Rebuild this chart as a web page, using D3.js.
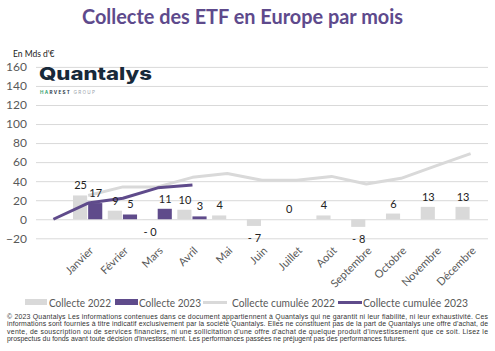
<!DOCTYPE html>
<html>
<head>
<meta charset="utf-8">
<script src="https://cdn.jsdelivr.net/npm/d3@7"></script>
<style>
  body { margin: 0; background: #fff; }
  svg { display: block; font-family: Lato, "Open Sans", sans-serif; }
</style>
</head>
<body>
<svg id="chart"></svg>
<script>
// chart data
const months = ["Janvier", "Février", "Mars", "Avril", "Mai", "Juin", "Juillet", "Août", "Septembre", "Octobre", "Novembre", "Décembre"];
const collecte2022 = [25, 9, -0.3, 10, 4, -7, 0, 4, -8, 6, 13, 13];
const collecte2023 = [17, 5, 11, 3];
const cumul2022 = [25, 34, 34, 44, 48, 41, 41, 45, 37, 43, 56, 69];
const cumul2023 = [0, 17, 22, 33, 36];
const yTicks = [-20, 0, 20, 40, 60, 80, 100, 120, 140, 160];
const footer = [
  "© 2023 Quantalys Les informations contenues dans ce document appartiennent à Quantalys qui ne garantit ni leur fiabilité, ni leur exhaustivité. Ces",
  "informations sont fournies à titre indicatif exclusivement par la société Quantalys. Elles ne constituent pas de la part de Quantalys une offre d'achat, de",
  "vente, de souscription ou de services financiers, ni une sollicitation d'une offre d'achat de quelque produit d'investissement que ce soit. Lisez le",
  "prospectus du fonds avant toute décision d'investissement. Les performances passées ne préjugent pas des performances futures."
];

const W = 495, H = 351;
const gray = "#d9d9d9", purple = "#5f4b8b", txt = "#595959";
const plotL = 36, plotR = 488, plotT = 66.9, plotB = 238.3;

const svg = d3.select("#chart").attr("width", W).attr("height", H);

// title
svg.append("text")
  .attr("x", 82).attr("y", 23.5)
  .attr("textLength", 321).attr("lengthAdjust", "spacingAndGlyphs")
  .style("font-size", "20px").style("font-weight", 700)
  .attr("fill", "#5e4a8c")
  .text("Collecte des ETF en Europe par mois");

svg.append("text")
  .attr("x", 13).attr("y", 57)
  .style("font-size", "8.5px").attr("fill", "#222")
  .text("En Mds d'€");

// scales
const cats = [""].concat(months);
const x = d3.scaleBand().domain(cats).range([plotL, plotR])
  .paddingInner(0.13).paddingOuter(0.065);
const xs = d3.scaleBand().domain(["2022", "2023"]).range([0, x.bandwidth()]);
const y = d3.scaleLinear().domain([-20, 160]).range([plotB, plotT]);
const cx = c => x(c) + x.bandwidth() / 2;

// grid + y axis
const yAxis = d3.axisLeft(y).tickValues(yTicks).tickSize(-(plotR - plotL)).tickPadding(9);
const ga = svg.append("g").attr("transform", `translate(${plotL},0)`).call(yAxis);
ga.select(".domain").remove();
ga.selectAll(".tick line").attr("stroke", gray).attr("stroke-width", 1);
ga.selectAll(".tick text").attr("fill", txt).style("font-size", "12px")
  .style("font-family", "Lato, sans-serif");

// x labels
const xAxis = d3.axisBottom(x).tickValues(months).tickSize(0);
const gx = svg.append("g").attr("transform", `translate(0,${plotB})`).call(xAxis);
gx.select(".domain").remove();
gx.selectAll(".tick text")
  .attr("fill", txt).style("font-size", "11px").style("font-family", "Lato, sans-serif")
  .attr("text-anchor", "end").attr("dy", 0).attr("y", 0)
  .attr("transform", "translate(6,13) rotate(-45)");

// logo
const logo = svg.append("g");
logo.append("text").attr("x", 39).attr("y", 80)
  .attr("textLength", 113).attr("lengthAdjust", "spacingAndGlyphs")
  .style("font-family", "Inter, sans-serif").style("font-size", "17.5px").style("font-weight", 800)
  .attr("fill", "#17293a").text("Quantalys");
const tag = logo.append("text").attr("x", 40).attr("y", 93.5)
  .style("font-family", "Inter, sans-serif").style("font-size", "4.6px").style("font-weight", 700)
  .attr("letter-spacing", "1.3px");
tag.append("tspan").attr("fill", "#3aa676").text("HA");
tag.append("tspan").attr("fill", "#2b3a4a").text("RVEST ");
tag.append("tspan").attr("fill", "#9aa3ab").style("font-weight", 400).text("GROUP");

// bars
const bars22 = months.map((m, i) => ({ m, v: collecte2022[i] }));
const bars23 = collecte2023.map((v, i) => ({ m: months[i], v }));

function drawBars(data, key, color) {
  svg.append("g").selectAll("rect").data(data).join("rect")
    .attr("x", d => x(d.m) + xs(key))
    .attr("width", xs.bandwidth() - 1)
    .attr("y", d => y(Math.max(0, d.v)))
    .attr("height", d => Math.abs(y(d.v) - y(0)))
    .attr("fill", color);
}
drawBars(bars22, "2022", gray);
drawBars(bars23, "2023", purple);

// lines
const line = d3.line().x(d => cx(d.c)).y(d => y(d.v));
svg.append("path")
  .datum(cumul2022.map((v, i) => ({ c: months[i], v })))
  .attr("d", line).attr("fill", "none").attr("stroke", gray).attr("stroke-width", 3)
  .attr("stroke-linejoin", "round");
svg.append("path")
  .datum(cumul2023.map((v, i) => ({ c: cats[i], v })))
  .attr("d", line).attr("fill", "none").attr("stroke", purple).attr("stroke-width", 3)
  .attr("stroke-linejoin", "round");

// value labels
const fmt = v => (v < 0 ? "- " : "") + Math.round(Math.abs(v));
function drawLabels(data, key) {
  svg.append("g").selectAll("text").data(data).join("text")
    .attr("x", d => x(d.m) + xs(key) + xs.bandwidth() / 2)
    .attr("y", d => d.v < 0 ? y(d.v) + 16 : y(d.v) - 6)
    .attr("text-anchor", "middle")
    .style("font-size", "11px").attr("fill", "#222")
    .text(d => fmt(d.v));
}
drawLabels(bars22, "2022");
drawLabels(bars23, "2023");

// legend
const leg = svg.append("g").style("font-size", "12px").attr("fill", txt);
const legText = (x0, len, s) => leg.append("text").attr("x", x0).attr("y", 306.5)
  .attr("textLength", len).attr("lengthAdjust", "spacingAndGlyphs").text(s);
leg.append("rect").attr("x", 25).attr("y", 299).attr("width", 22).attr("height", 6).attr("fill", gray);
legText(49, 62, "Collecte 2022");
leg.append("rect").attr("x", 115).attr("y", 299).attr("width", 23).attr("height", 6).attr("fill", purple);
legText(139, 62, "Collecte 2023");
leg.append("line").attr("x1", 203).attr("x2", 227).attr("y1", 302.5).attr("y2", 302.5)
  .attr("stroke", gray).attr("stroke-width", 3);
legText(232, 103, "Collecte cumulée 2022");
leg.append("line").attr("x1", 338).attr("x2", 362).attr("y1", 302.5).attr("y2", 302.5)
  .attr("stroke", purple).attr("stroke-width", 3);
legText(363, 105, "Collecte cumulée 2023");

// footer, justified lines
const ft = svg.append("g").style("font-family", "'Liberation Sans', Arial, sans-serif")
  .style("font-size", "6.9px").attr("fill", "#333");
footer.forEach((s, i) => {
  const t = ft.append("text").attr("x", 7).attr("y", 318.5 + i * 7.5).text(s);
  if (i < footer.length - 1) t.attr("textLength", 481).attr("lengthAdjust", "spacing");
});
</script>
</body>
</html>
